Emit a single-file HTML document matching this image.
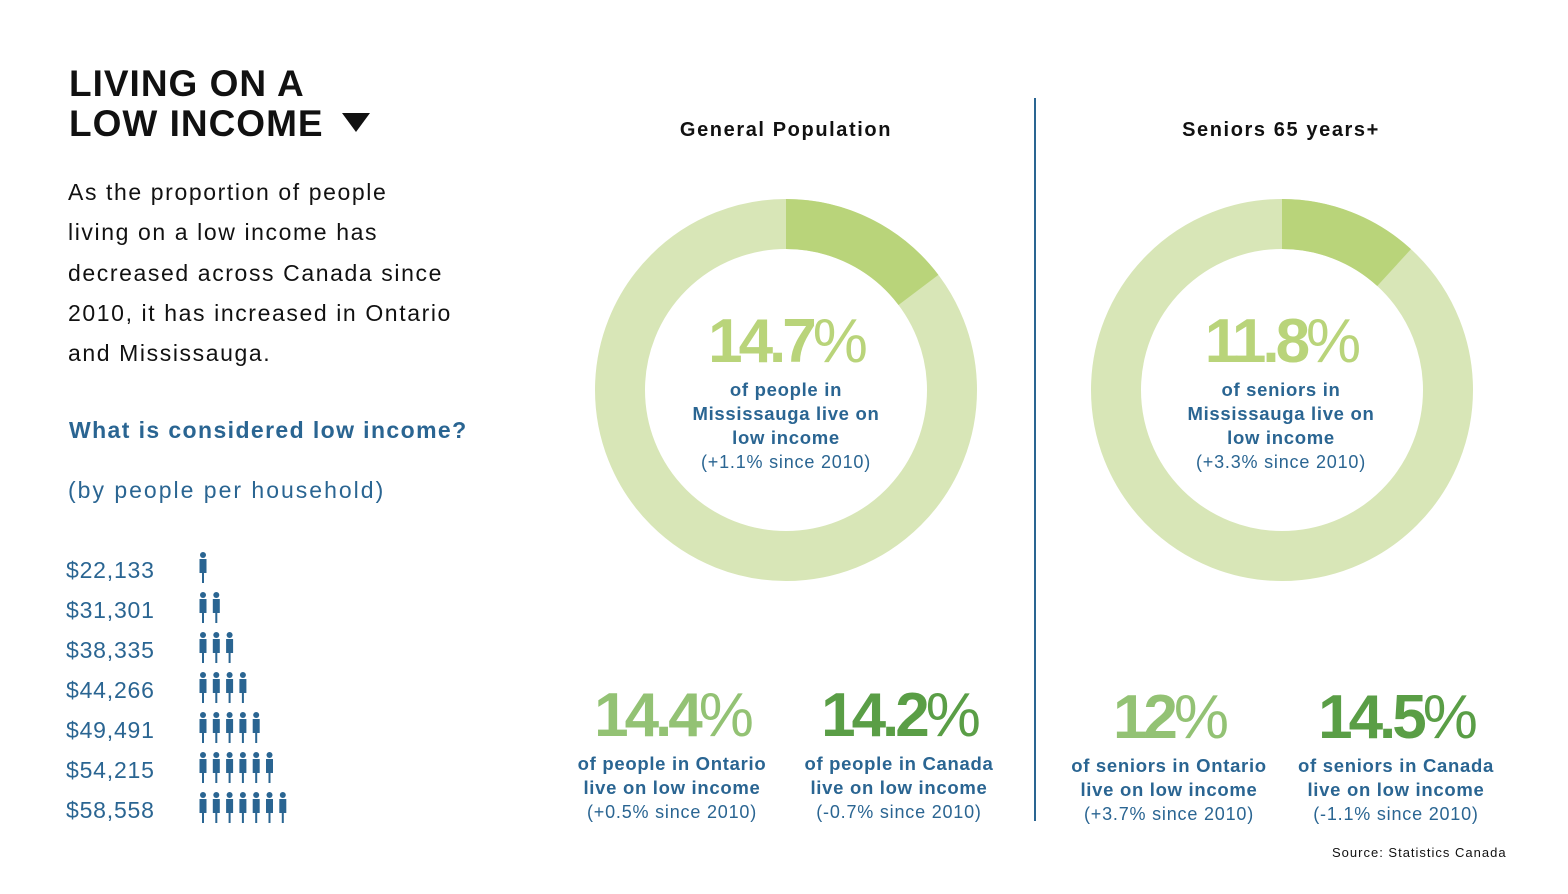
<!DOCTYPE html>
<html><head><meta charset="utf-8"><style>
body{margin:0;width:1568px;height:894px;background:#fff;font-family:"Liberation Sans",sans-serif;position:relative;overflow:hidden}
.a{position:absolute}
.blue{color:#2a6592}
.b{font-weight:bold}
.c{text-align:center}
.big{font-size:62px;font-weight:bold;letter-spacing:-4px;line-height:72px}
.sm{font-size:18.5px;line-height:24px;letter-spacing:0.7px}
.sn{font-size:18px;line-height:24px;letter-spacing:0.8px}
</style></head><body>
<div class="a b" style="left:69px;top:64px;font-size:37px;line-height:40px;color:#111;letter-spacing:1px">LIVING ON A<br>LOW INCOME</div>
<svg class="a" style="left:342px;top:113px" width="28" height="20"><polygon points="0,0 28,0 14,19" fill="#111"/></svg>
<div class="a" style="left:68px;top:172px;font-size:23px;line-height:40.3px;color:#111;letter-spacing:1.6px">As the proportion of people<br>living on a low income has<br>decreased across Canada since<br>2010, it has increased in Ontario<br>and Mississauga.</div>
<div class="a b blue" style="left:69px;top:417px;font-size:23px;letter-spacing:1.4px">What is considered low income?</div>
<div class="a blue" style="left:68px;top:477px;font-size:23px;letter-spacing:2px">(by people per household)</div>
<div id="rows"></div>
<div class="a b c" style="left:636px;top:119px;width:300px;font-size:20px;color:#111;letter-spacing:1.6px">General Population</div>
<div class="a b c" style="left:1131px;top:119px;width:300px;font-size:20px;color:#111;letter-spacing:1.6px">Seniors 65 years+</div>
<div class="a" style="left:1034px;top:98px;width:1.5px;height:723px;background:#2a6592"></div>
<svg class="a" style="left:0;top:0" width="1568" height="894" id="donuts"></svg>
<div class="a c" style="left:636px;top:306px;width:300px">
<div class="big" style="color:#b9d47a">14.7<span style="font-weight:normal">%</span></div>
<div class="b blue sm">of people in<br>Mississauga live on<br>low income</div>
<div class="blue sn">(+1.1% since 2010)</div></div>
<div class="a c" style="left:1131px;top:306px;width:300px">
<div class="big" style="color:#b9d47a">11.8<span style="font-weight:normal">%</span></div>
<div class="b blue sm">of seniors in<br>Mississauga live on<br>low income</div>
<div class="blue sn">(+3.3% since 2010)</div></div>
<div class="a c" style="left:542px;top:680px;width:260px">
<div class="big" style="color:#93c274">14.4<span style="font-weight:normal">%</span></div>
<div class="b blue sm">of people in Ontario<br>live on low income</div>
<div class="blue sn">(+0.5% since 2010)</div></div>
<div class="a c" style="left:769px;top:680px;width:260px">
<div class="big" style="color:#5a9e46">14.2<span style="font-weight:normal">%</span></div>
<div class="b blue sm">of people in Canada<br>live on low income</div>
<div class="blue sn">(-0.7% since 2010)</div></div>
<div class="a c" style="left:1039px;top:682px;width:260px">
<div class="big" style="color:#93c274">12<span style="font-weight:normal">%</span></div>
<div class="b blue sm">of seniors in Ontario<br>live on low income</div>
<div class="blue sn">(+3.7% since 2010)</div></div>
<div class="a c" style="left:1266px;top:682px;width:260px">
<div class="big" style="color:#5a9e46">14.5<span style="font-weight:normal">%</span></div>
<div class="b blue sm">of seniors in Canada<br>live on low income</div>
<div class="blue sn">(-1.1% since 2010)</div></div>
<div class="a" style="left:1332px;top:845px;font-size:13px;color:#111;letter-spacing:1px">Source: Statistics Canada</div>
<script>
const incomes=["$22,133","$31,301","$38,335","$44,266","$49,491","$54,215","$58,558"];
const people=[1,2,3,4,5,6,7];
const donutValues=[14.7,11.8];
const donutNames=["general-population-donut","seniors-donut"];
const rows=document.getElementById('rows');
incomes.forEach((t,i)=>{
  const y=552+i*40;
  const d=document.createElement('div');
  d.className='a blue';d.style.cssText=`left:66px;top:${y+5}px;font-size:23px;letter-spacing:0.8px`;
  d.textContent=t;
  
  
  rows.appendChild(d);
  const ns='http://www.w3.org/2000/svg';
  const s=document.createElementNS(ns,'svg');
  s.setAttribute('class','a');s.setAttribute('width','110');s.setAttribute('height','34');
  s.style.left='196px';s.style.top=y+'px';
  
  
  let h='';
  for(let k=0;k<people[i];k++){const x=7+k*13.3;
    h+=`<circle cx="${x}" cy="3" r="3" fill="#2a6592"/><rect x="${x-3.5}" y="7" width="7" height="14" fill="#2a6592"/><rect x="${x-1}" y="20" width="2" height="11" fill="#2a6592"/>`;}
  s.innerHTML=h;rows.appendChild(s);
});
const svg=document.getElementById('donuts');
const cxs=[786,1282],cy=390,R=166,W=50;
donutValues.forEach((v,i)=>{
  const ns='http://www.w3.org/2000/svg';
  const g=document.createElementNS(ns,'g');
  
  
  const c=document.createElementNS(ns,'circle');
  c.setAttribute('cx',cxs[i]);c.setAttribute('cy',cy);c.setAttribute('r',R);
  c.setAttribute('fill','none');c.setAttribute('stroke','#d8e6b7');c.setAttribute('stroke-width',W);
  
  
  g.appendChild(c);
  const a=v/100*2*Math.PI;
  const x1=cxs[i],y1=cy-R,x2=cxs[i]+R*Math.sin(a),y2=cy-R*Math.cos(a);
  const p=document.createElementNS(ns,'path');
  p.setAttribute('d',`M${x1},${y1} A${R},${R} 0 ${v>50?1:0} 1 ${x2},${y2}`);
  p.setAttribute('fill','none');p.setAttribute('stroke','#b9d47a');p.setAttribute('stroke-width',W);
  
  
  g.appendChild(p);svg.appendChild(g);
});
</script>
</body></html>
